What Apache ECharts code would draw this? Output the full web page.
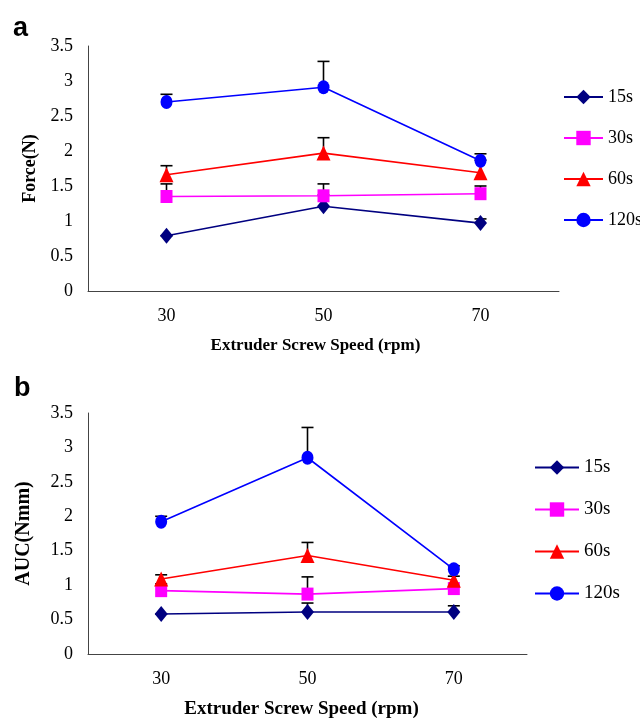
<!DOCTYPE html>
<html>
<head>
<meta charset="utf-8">
<script src="https://cdn.jsdelivr.net/npm/echarts@6/dist/echarts.min.js"></script>
<style>html,body{margin:0;padding:0;background:#fff;}#c{width:640px;height:720px;}</style>
</head>
<body>
<div id="c"></div>
<script>
// ---- data ----
const categories = ['30', '50', '70'];
const seriesNames = ['15s', '30s', '60s', '120s'];

// Panel a: Force (N)
const force15 = [0.79, 1.21, 0.97];
const force30 = [1.35, 1.36, 1.39];
const force60 = [1.66, 1.97, 1.69];
const force120 = [2.70, 2.91, 1.86];
const forceErr15 = [0.0, 0.16, 0.06];
const forceErr30 = [0.18, 0.17, 0.11];
const forceErr60 = [0.13, 0.22, 0.18];
const forceErr120 = [0.11, 0.37, 0.10];

// Panel b: AUC (Nmm)
const auc15 = [0.58, 0.61, 0.61];
const auc30 = [0.92, 0.87, 0.95];
const auc60 = [1.09, 1.43, 1.07];
const auc120 = [1.92, 2.85, 1.23];
const aucErr15 = [0.0, 0.13, 0.09];
const aucErr30 = [0.10, 0.25, 0.03];
const aucErr60 = [0.06, 0.19, 0.06];
const aucErr120 = [0.08, 0.44, 0.05];

// ---- styles ----
const colors = ['#000080', '#FF00FF', '#FF0000', '#0000FF'];
const symbols = ['diamond', 'rect', 'triangle', 'circle'];
const symbolSizes = [[13, 16], [12, 13], [14, 15], [12, 14]];
const serif = 'Liberation Serif';
const axisColor = '#444';

const chart = echarts.init(document.getElementById('c'));

function lineSeries(name, i, data, gi) {
  return {
    type: 'line', name: name, xAxisIndex: gi, yAxisIndex: gi,
    data: data, symbol: symbols[i], symbolSize: symbolSizes[i],
    showSymbol: true, z: 3,
    lineStyle: { color: colors[i], width: 1.6 },
    itemStyle: { color: colors[i], borderWidth: 0 },
    emphasis: { disabled: true }, animation: false
  };
}
function errSeries(vals, errs, gi) {
  return {
    type: 'custom', xAxisIndex: gi, yAxisIndex: gi, z: 2, silent: true, animation: false,
    data: vals.map((v, k) => [k, v, errs[k]]),
    encode: { x: 0, y: 1 },
    renderItem: function (params, api) {
      const base = api.coord([api.value(0), api.value(1)]);
      const top = api.coord([api.value(0), api.value(1) + api.value(2)]);
      const st = { stroke: '#000', lineWidth: 1.6 };
      return {
        type: 'group', children: [
          { type: 'line', shape: { x1: base[0], y1: base[1], x2: top[0], y2: top[1] }, style: st },
          { type: 'line', shape: { x1: top[0] - 6, y1: top[1], x2: top[0] + 6, y2: top[1] }, style: st }
        ]
      };
    }
  };
}
function xAxisCfg(gi, fs, shift) {
  return {
    type: 'category', gridIndex: gi, data: categories, boundaryGap: true,
    name: 'Extruder Screw Speed (rpm)', nameLocation: 'middle', nameGap: 46,
    nameTextStyle: { fontFamily: serif, fontWeight: 'bold', fontSize: fs, color: '#000', padding: [0, shift, 0, 0] },
    axisLine: { lineStyle: { color: axisColor, width: 1 } },
    axisTick: { inside: true, length: 7, lineStyle: { color: axisColor } },
    axisLabel: { fontFamily: serif, fontSize: 18, color: '#000', margin: 16 },
    splitLine: { show: false }
  };
}
function yAxisCfg(gi, name, gap, fs) {
  return {
    type: 'value', gridIndex: gi, min: 0, max: 3.5, interval: 0.5,
    name: name, nameLocation: 'middle', nameGap: gap, nameRotate: 90,
    nameTextStyle: { fontFamily: serif, fontWeight: 'bold', fontSize: fs, color: '#000' },
    axisLine: { show: true, lineStyle: { color: axisColor, width: 1 } },
    axisTick: { show: false },
    axisLabel: { fontFamily: serif, fontSize: 18, color: '#000', margin: 15 },
    splitLine: { show: false }
  };
}
function legendCfg(left, top, w, gap, fs) {
  return {
    orient: 'vertical', left: left, top: top, padding: 0,
    itemWidth: w, itemHeight: 18, itemGap: gap,
    data: seriesNames, selectedMode: false,
    textStyle: { fontFamily: serif, fontSize: fs, color: '#000' }
  };
}

const valsA = [force15, force30, force60, force120];
const errsA = [forceErr15, forceErr30, forceErr60, forceErr120];
const valsB = [auc15, auc30, auc60, auc120];
const errsB = [aucErr15, aucErr30, aucErr60, aucErr120];

const series = [];
valsA.forEach((v, i) => series.push(errSeries(v, errsA[i], 0)));
valsA.forEach((v, i) => series.push(lineSeries(seriesNames[i], i, v, 0)));
valsB.forEach((v, i) => series.push(errSeries(v, errsB[i], 1)));
valsB.forEach((v, i) => series.push(lineSeries(seriesNames[i], i, v, 1)));

chart.setOption({
  backgroundColor: '#fff',
  animation: false,
  grid: [
    { left: 88, top: 46, width: 471, height: 245 },
    { left: 88, top: 413, width: 439, height: 241 }
  ],
  xAxis: [xAxisCfg(0, 17, 16), xAxisCfg(1, 19, 12)],
  yAxis: [yAxisCfg(0, 'Force(N)', 48, 18), yAxisCfg(1, 'AUC(Nmm)', 54, 20)],
  legend: [legendCfg(563, 88, 39, 23, 18), legendCfg(534, 458, 44, 23, 19)],
  graphic: [
    { type: 'text', left: 13, top: 15, style: { text: 'a', font: 'bold 27px "Liberation Sans"', fill: '#000' } },
    { type: 'text', left: 14, top: 375, style: { text: 'b', font: 'bold 27px "Liberation Sans"', fill: '#000' } }
  ],
  series: series
});
</script>
</body>
</html>
